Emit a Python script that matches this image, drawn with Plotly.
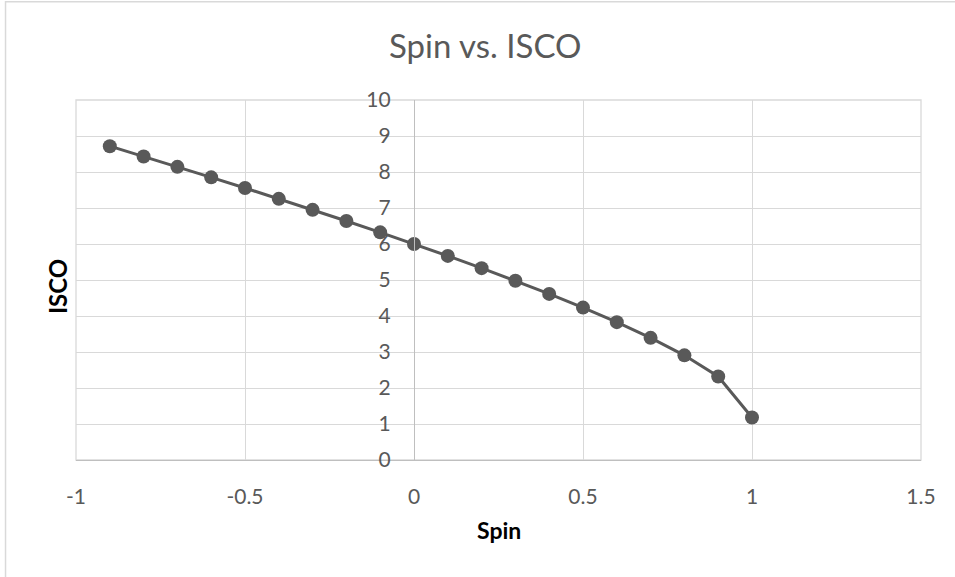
import plotly.graph_objects as go

spin = [-0.9, -0.8, -0.7, -0.6, -0.5, -0.4, -0.3, -0.2, -0.1, 0.0,
        0.1, 0.2, 0.3, 0.4, 0.5, 0.6, 0.7, 0.8, 0.9, 1.0]
isco = [8.717, 8.432, 8.143, 7.851, 7.555, 7.254, 6.949, 6.639, 6.323, 6.0,
        5.669, 5.329, 4.979, 4.614, 4.233, 3.829, 3.393, 2.907, 2.321, 1.18]

x_ticks = [-1, -0.5, 0, 0.5, 1, 1.5]
y_ticks = list(range(0, 11))

FONT = "Lato"
GRAY = "#595959"
GRID = "#d9d9d9"

fig = go.Figure()
fig.add_trace(go.Scatter(
    x=spin, y=isco, mode="lines+markers",
    line=dict(color=GRAY, width=3),
    marker=dict(color=GRAY, size=14),
    showlegend=False, hoverinfo="x+y"))

fig.update_layout(
    width=955, height=577,
    margin=dict(l=76, r=34, t=100, b=117),
    paper_bgcolor="white", plot_bgcolor="white",
    font=dict(family=FONT, color=GRAY),
    xaxis=dict(range=[-1, 1.5], tickvals=x_ticks, ticktext=[str(v) for v in x_ticks],
               showgrid=True, gridcolor=GRID, gridwidth=1.3,
               zeroline=False, showline=True, linecolor="#bfbfbf", linewidth=1.3,
               ticks="", tickfont=dict(family=FONT, size=21, color=GRAY),
               ticklabelstandoff=18, fixedrange=True),
    yaxis=dict(range=[0, 10], tickvals=y_ticks, anchor="free", position=0.4,
               showgrid=True, gridcolor=GRID, gridwidth=1.3,
               zeroline=False, showline=True, linecolor="#bfbfbf", linewidth=1.3,
               ticks="", tickfont=dict(family=FONT, size=21, color=GRAY),
               ticklabelstandoff=19, fixedrange=True),
    annotations=[
        dict(text="Spin vs. ISCO", x=485, y=45, xref="paper", yref="paper",
             showarrow=False, font=dict(family=FONT, size=33, color=GRAY)),
        dict(text="<b>Spin</b>", x=0.5, y=530, xref="paper", yref="paper",
             showarrow=False, font=dict(family=FONT, size=23, color="black")),
        dict(text="<b>ISCO</b>", x=57, y=287, xref="paper", yref="paper",
             textangle=-90, showarrow=False,
             font=dict(family=FONT, size=24, color="black")),
    ],
    shapes=[
        dict(type="rect", xref="paper", yref="paper",
             x0=-0.0834, x1=1.2, y0=-0.5, y1=1.2726,
             line=dict(color=GRID, width=1.5), layer="below"),
        dict(type="rect", xref="paper", yref="paper",
             x0=0, x1=1, y0=0, y1=1,
             line=dict(color=GRID, width=1.3), layer="below"),
    ],
)

# convert pixel-positioned annotations to paper coords
W0, W1 = 76, 921
H0, H1 = 100, 460
new = []
for a in list(fig.layout.annotations):
    ad = a.to_plotly_json()
    if ad["x"] > 1.5:
        ad["x"] = (ad["x"] - W0) / (W1 - W0)
    if ad["y"] > 1.5:
        ad["y"] = (H1 - ad["y"]) / (H1 - H0)
    ad["xanchor"] = "center"
    ad["yanchor"] = "middle"
    new.append(ad)
fig.layout.annotations = new

fig.write_html("out.html")
